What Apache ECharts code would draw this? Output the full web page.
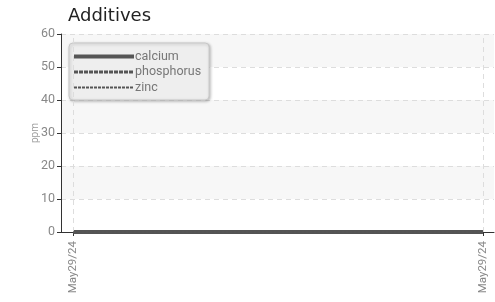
<!DOCTYPE html>
<html>
<head>
<meta charset="utf-8">
<script src="https://cdn.jsdelivr.net/npm/echarts@6/dist/echarts.min.js"></script>
<style>
  html, body { margin: 0; padding: 0; background: #fff; }
  #chart { width: 495px; height: 302px; }
</style>
</head>
<body>
<div id="chart"></div>
<script>
// data
const categories = ['May29/24', 'May29/24'];
const calcium = [0, 0];
const phosphorus = [0, 0];
const zinc = [0, 0];
const yTicks = [0, 10, 20, 30, 40, 50, 60];

const narrow = "'Roboto', sans-serif";
const lineColor = '#555';

// x positions are the category index, so both points land on the value axis
const pairs = (vals) => vals.map((v, i) => [i, v]);

const chart = echarts.init(document.getElementById('chart'));
chart.setOption({
  animation: false,
  backgroundColor: '#fff',
  title: {
    text: 'Additives',
    left: 63,
    top: 2,
    textStyle: { fontFamily: "'DejaVu Sans', sans-serif", fontSize: 18, fontWeight: 'normal', color: '#222' }
  },
  legend: {
    orient: 'vertical',
    left: 69,
    top: 43,
    padding: [7, 8, 6, 3],
    itemGap: 2.5,
    itemWidth: 60,
    itemHeight: 12,
    backgroundColor: '#eeeeee',
    borderColor: '#c8c8c8',
    borderWidth: 1,
    borderRadius: 4,
    shadowColor: 'rgba(0,0,0,0.25)',
    shadowBlur: 3,
    shadowOffsetX: 1,
    shadowOffsetY: 1,
    // hide the circle the legend adds to line series
    itemStyle: { color: 'transparent', borderColor: 'transparent', borderWidth: 0 },
    textStyle: { fontFamily: narrow, fontSize: 12.5, color: '#777', padding: [0, 0, 0, -4] },
    data: [
      { name: 'calcium', lineStyle: { width: 4, type: 'solid' } },
      { name: 'phosphorus', lineStyle: { width: 3, type: [4, 1] } },
      { name: 'zinc', lineStyle: { width: 2, type: [3, 1] } }
    ]
  },
  grid: { left: 61, right: 1, top: 34, bottom: 70 },
  xAxis: {
    type: 'value',
    min: -0.03,
    max: 1.027,
    axisLine: { onZero: false, lineStyle: { color: '#333' } },
    axisTick: { customValues: [0, 1], length: 4, lineStyle: { color: '#333' } },
    axisLabel: {
      customValues: [0, 1],
      rotate: 90,
      margin: 9,
      fontFamily: narrow,
      fontSize: 11.5,
      color: '#888',
      formatter: (v) => categories[Math.round(v)]
    },
    splitLine: { show: false }
  },
  yAxis: {
    type: 'value',
    min: yTicks[0],
    max: yTicks[yTicks.length - 1],
    interval: 10,
    name: 'ppm',
    nameLocation: 'middle',
    nameGap: 21,
    nameMoveOverlap: false,
    nameTextStyle: { fontFamily: narrow, fontSize: 10, color: '#999' },
    axisLine: { show: true, onZero: false, lineStyle: { color: '#333' } },
    axisTick: { show: true, length: 4, lineStyle: { color: '#333' } },
    axisLabel: { fontFamily: narrow, fontSize: 12.5, color: '#888', margin: 6 },
    splitLine: { lineStyle: { type: [5, 4], color: '#dddddd' } },
    splitArea: { show: true, areaStyle: { color: ['rgba(255,255,255,0)', '#f7f7f7'] } }
  },
  series: [
    {
      name: 'calcium',
      type: 'line',
      symbol: 'none',
      lineStyle: { width: 4, color: lineColor },
      itemStyle: { color: lineColor },
      data: pairs(calcium),
      markLine: {
        silent: true,
        symbol: 'none',
        label: { show: false },
        lineStyle: { type: [5, 4], color: '#dddddd', width: 1 },
        data: [{ xAxis: 0 }, { xAxis: 1 }]
      },
      z: 3
    },
    {
      name: 'phosphorus',
      type: 'line',
      symbol: 'none',
      lineStyle: { width: 3, color: lineColor, type: [4, 1] },
      itemStyle: { color: lineColor },
      data: pairs(phosphorus),
      z: 4
    },
    {
      name: 'zinc',
      type: 'line',
      symbol: 'none',
      lineStyle: { width: 2, color: lineColor, type: [3, 1] },
      itemStyle: { color: lineColor },
      data: pairs(zinc),
      z: 5
    }
  ]
});
</script>
</body>
</html>
